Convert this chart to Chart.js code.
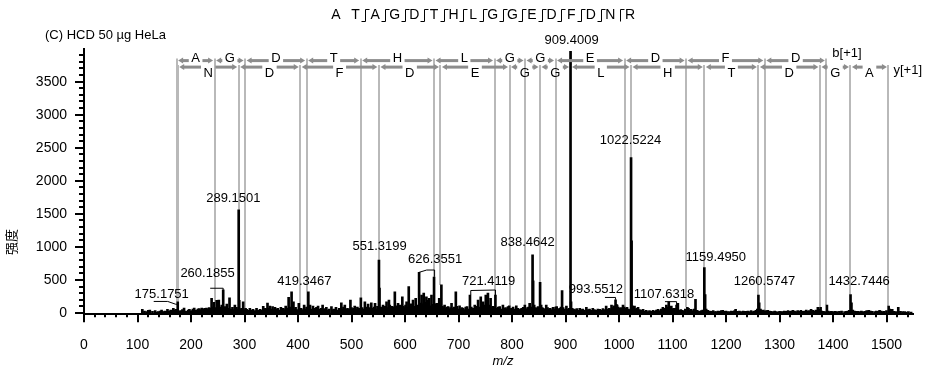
<!DOCTYPE html>
<html>
<head>
<meta charset="utf-8">
<script src="https://cdn.jsdelivr.net/npm/chart.js@4.4.0/dist/chart.umd.min.js"></script>
<style>
    html, body { margin: 0; padding: 0; background: #fff; }
    #wrap { width: 930px; height: 371px; }
</style>
</head>
<body>
<div id="wrap"><canvas id="spectrum" width="930" height="371"></canvas></div>
<script>
// peptide and fragment ions
const sequence = ['A', 'T', 'A', 'G', 'D', 'T', 'H', 'L', 'G', 'G', 'E', 'D', 'F', 'D', 'N', 'R'];
const bIons = [173.09, 244.13, 301.15, 416.18, 517.23, 654.29, 767.37, 824.39, 881.41, 1010.46, 1125.48, 1272.55, 1387.58];
const yIons = [175.12, 289.16, 404.19, 551.26, 666.29, 795.33, 852.35, 909.37, 1022.46, 1159.52, 1260.56, 1375.59, 1432.61, 1503.65];
const bLetters = ['A', 'G', 'D', 'T', 'H', 'L', 'G', 'G', 'E', 'D', 'F', 'D'];
const yLetters = ['N', 'D', 'F', 'D', 'E', 'G', 'G', 'L', 'H', 'T', 'D', 'G', 'A'];
// gaps in the sequence header (gap g sits after residue g, 0-based)
const bSites = [1, 2, 3, 4, 5, 6, 7, 8, 9, 10, 11, 12, 13];
const ySites = [1, 2, 3, 4, 5, 6, 7, 8, 9, 10, 11, 12, 13, 14];

// axis ticks
const xTicks = [0, 100, 200, 300, 400, 500, 600, 700, 800, 900, 1000, 1100, 1200, 1300, 1400, 1500];
const yTicks = [0, 500, 1000, 1500, 2000, 2500, 3000, 3500];

// labelled peaks (m/z)
const labelledPeaks = [175.1751, 260.1855, 289.1501, 419.3467, 551.3199, 626.3551, 721.4119, 838.4642,
    909.4009, 993.5512, 1022.5224, 1107.6318, 1159.4950, 1260.5747, 1432.7446];

// spectrum: [m/z, intensity]
const spectrum = [
    [109, 55], [113, 30], [117, 20], [120, 40], [123, 45], [128, 25], [133, 35], [136, 15], [139, 20], [142, 30],
    [145, 45], [148, 20], [151, 30], [154, 25], [156, 55], [159, 30], [162, 45], [165, 35], [167, 70], [170, 40],
    [171.5, 55], [175.1751, 170], [178, 30], [180.6, 35], [184, 50], [187, 75], [190, 30], [192, 20], [195, 45],
    [197, 55], [199, 25], [201, 35], [203.5, 60], [206, 75], [208, 40], [210.5, 45], [213, 60], [215, 65],
    [217.5, 50], [220, 75], [222, 55], [224, 65], [226.5, 70], [229, 75], [231.5, 60], [234, 80], [236, 70],
    [238.5, 220], [241, 90], [243, 160], [245.5, 80], [248, 190], [250, 110], [252, 195], [255, 90], [257.5, 120],
    [260.1855, 350], [263, 95], [265, 60], [267, 135], [269.5, 70], [272, 230], [275, 60], [277.5, 85], [280, 50],
    [282, 120], [285, 85], [287, 60], [289.1501, 1560], [290.2, 190], [292.5, 60], [294.5, 70], [297.5, 170],
    [300, 50], [302, 70], [304, 55], [307, 40], [310, 70], [313, 45], [316, 55], [319, 35], [322.5, 70], [325, 40],
    [329, 55], [332, 45], [335, 100], [337, 50], [339, 70], [341, 60], [343, 150], [345.5, 70], [347.5, 105],
    [350, 60], [352.5, 95], [354.5, 50], [357, 85], [359.5, 60], [362, 70], [365, 45], [368, 85], [370, 55],
    [372.5, 70], [374.5, 50], [377, 105], [379.5, 75], [382.5, 235], [385, 90], [388, 320], [390, 120],
    [391.5, 170], [393.5, 60], [395.5, 85], [398, 50], [401.5, 145], [404, 60], [406, 70], [408, 50], [411.5, 120],
    [414, 60], [416, 90], [419.3467, 320], [421, 80], [422.5, 120], [424.5, 60], [428, 105], [430.5, 50], [432, 70],
    [434.5, 85], [437.5, 105], [440, 55], [443, 70], [446, 120], [448.5, 50], [450.5, 65], [453, 85], [455.5, 45],
    [458, 60], [462.5, 95], [465, 50], [468, 60], [471, 85], [474, 45], [477, 70], [481, 155], [483, 60], [485, 90],
    [487.5, 120], [490, 55], [492.5, 70], [495, 60], [498, 195], [500, 80], [502, 60], [504, 70], [506, 105],
    [508.5, 55], [511, 90], [513.5, 70], [517.5, 230], [520, 80], [522, 60], [525, 170], [527, 70], [529, 90],
    [531, 135], [533.5, 60], [535, 80], [537, 155], [539.5, 70], [542, 90], [544, 145], [546.5, 60], [548.5, 100],
    [551.3199, 800], [552.3, 375], [554.5, 90], [556.5, 70], [559, 120], [561, 60], [563, 100], [565.5, 170],
    [568, 80], [570, 195], [571.6, 120], [574, 70], [576, 100], [578, 90], [581, 320], [583, 110], [585, 80],
    [587, 145], [589, 60], [591, 120], [593, 90], [595, 245], [597, 100], [599, 80], [601, 120], [603, 170],
    [605, 90], [607, 400], [609, 110], [611, 140], [613, 90], [615, 195], [617, 100], [620, 220], [622, 120],
    [624, 90], [626.3551, 615], [628, 150], [629.5, 110], [631, 270], [633, 140], [635, 300], [637, 120],
    [638.5, 160], [640, 245], [642, 130], [643.5, 190], [645, 220], [647, 110], [649.5, 270], [651.5, 130],
    [654.3, 545], [656, 140], [658, 110], [659.5, 145], [661.5, 90], [664, 220], [666, 120], [668, 425], [670, 100],
    [672, 80], [674, 120], [676.5, 70], [678.5, 90], [680.7, 95], [683, 60], [685, 80], [687, 145], [689.5, 70],
    [692, 90], [695, 320], [697, 100], [699.5, 60], [702, 110], [704, 60], [706.5, 80], [708.6, 70], [711, 50],
    [713.5, 90], [716, 95], [718.5, 60], [721.4119, 272], [724, 90], [726.5, 70], [728.5, 60], [730.4, 120],
    [733, 80], [735, 100], [736.6, 195], [739, 90], [741.6, 245], [744, 100], [746, 170], [748.5, 120], [751, 270],
    [753, 110], [755, 300], [757.5, 120], [760, 220], [762.5, 80], [764.5, 100], [766.5, 90], [769, 270], [772, 70],
    [774, 90], [777, 95], [780, 60], [783, 120], [785.5, 70], [788, 80], [790.5, 60], [792.6, 95], [795, 110],
    [797, 60], [799, 70], [802, 90], [805, 60], [808, 110], [811, 70], [813.5, 50], [816, 60], [818, 70], [821, 85],
    [824, 120], [826.5, 60], [829, 80], [831, 90], [833, 145], [835.5, 90], [838.4642, 880], [839.5, 485],
    [841.5, 120], [844, 80], [846, 70], [848.7, 95], [850.5, 80], [852.5, 465], [854.5, 120], [856.5, 80],
    [858.5, 70], [861, 60], [864, 120], [866.5, 80], [869, 60], [871.5, 70], [874, 50], [876.7, 85], [879.5, 60],
    [881.5, 90], [883.5, 95], [886, 60], [889, 70], [891.5, 90], [893.6, 340], [895.5, 80], [898, 60],
    [901.7, 105], [904.5, 60], [907, 70], [909.4009, 3960], [910.4, 170], [912.5, 70], [915, 60], [918, 50],
    [921, 65], [924, 40], [926.6, 70], [929.5, 50], [932, 60], [935, 45], [939, 85], [942, 50], [945, 60],
    [948, 40], [951, 70], [954, 50], [957, 40], [960.5, 60], [964, 55], [967, 45], [970, 65], [973, 50], [976, 105],
    [979, 60], [982, 70], [984, 50], [986, 120], [988.5, 80], [990.5, 110], [993.5512, 200], [995, 130],
    [996.5, 120], [998.5, 90], [1001, 70], [1003.5, 80], [1005.5, 60], [1007.5, 120], [1010, 90], [1012.5, 70],
    [1015, 85], [1017.5, 60], [1020, 50], [1022.5224, 2350], [1023.5, 1090], [1024.8, 110], [1026.5, 100],
    [1029, 105], [1031.5, 60], [1033.5, 70], [1035.6, 85], [1038, 50], [1041, 45], [1045, 55], [1048, 30],
    [1051, 40], [1054, 20], [1057, 35], [1060, 25], [1063.6, 40], [1067, 30], [1070, 45], [1073, 55], [1076, 35],
    [1079, 60], [1082, 85], [1085, 70], [1088.5, 120], [1090.5, 90], [1093, 170], [1095, 80], [1097.8, 105],
    [1100, 60], [1102, 70], [1104, 70], [1107.6318, 120], [1110, 145], [1113, 40], [1115.5, 50], [1118.5, 40],
    [1121, 30], [1124, 60], [1127.8, 85], [1130, 70], [1132.5, 40], [1135, 55], [1138, 35], [1140.5, 60],
    [1143, 205], [1146, 40], [1148.5, 30], [1151, 25], [1154, 35], [1156.5, 45], [1159.4950, 685], [1161, 280],
    [1163, 60], [1166, 40], [1169, 30], [1172.6, 25], [1176, 35], [1179, 20], [1182, 20], [1185, 30], [1188, 25],
    [1191, 35], [1194, 40], [1197, 25], [1200, 30], [1203, 20], [1207, 20], [1210, 30], [1213, 25], [1216, 35],
    [1218, 55], [1221, 25], [1225, 30], [1228.6, 20], [1232, 30], [1235, 25], [1238, 25], [1241, 30], [1244, 20],
    [1247, 35], [1250, 20], [1253, 30], [1256, 40], [1258.5, 60], [1260.5747, 270], [1262, 155], [1264.5, 60],
    [1267, 40], [1270, 45], [1272.5, 25], [1275, 35], [1278, 40], [1281, 30], [1284, 25], [1288, 20], [1291, 30],
    [1294, 20], [1297, 15], [1300, 25], [1303, 20], [1306, 20], [1309, 30], [1312, 25], [1316, 35], [1319, 25],
    [1322, 30], [1325, 40], [1328, 30], [1331, 20], [1334, 35], [1337, 25], [1340, 40], [1344, 25], [1347, 30],
    [1350, 45], [1353, 30], [1356, 35], [1359, 55], [1362, 40], [1365, 30], [1368, 45], [1371.7, 85], [1374, 60],
    [1376.8, 85], [1379, 30], [1382, 25], [1385, 20], [1388.6, 120], [1391, 30], [1394, 20], [1397, 25],
    [1400, 20], [1404, 25], [1408, 20], [1412, 25], [1416, 30], [1421.6, 20], [1425, 25], [1428, 30], [1430.5, 40],
    [1432.7446, 280], [1434.5, 155], [1437, 45], [1440, 30], [1443, 25], [1446.5, 25], [1450, 20], [1453, 30],
    [1456, 20], [1460, 25], [1463, 35], [1467, 40], [1470, 30], [1473, 25], [1477.7, 20], [1481, 30], [1484, 25],
    [1487, 40], [1490, 30], [1493, 20], [1496, 25], [1500, 35], [1504, 105], [1506, 60], [1510.7, 55], [1514, 25],
    [1518, 20], [1522, 85], [1526, 25], [1530, 20], [1533.7, 20], [1537, 15], [1541, 20], [1546, 15]
];

const FONT = '"Liberation Sans", Arial, sans-serif';
const GRAY_LINE = '#b9b9b9';
const GRAY_ARROW = '#8c8c8c';

// where each peak label sits relative to the top of its peak, and its leader line
const labelLayout = {
    '175.1751': { dx: -16, dy: -7, leader: [[-24, -0.3], [-10, -0.3], [-2, 2.5], [0, 2.5]] },
    '260.1855': { dx: -15.7, dy: -16.6, leader: [[-13, -1.6], [0, -1.6], [0, 0]] },
    '289.1501': { dx: -5.4, dy: -11.6 },
    '419.3467': { dx: -4, dy: -10 },
    '551.3199': { dx: 0.6, dy: -14 },
    '626.3551': { dx: 16, dy: -13, leader: [[0, 0], [7.6, -2.3], [15.5, -2.3], [15.5, 4.5]] },
    '721.4119': { dx: 18.6, dy: -13.3, leader: [[0.8, 0], [0.8, -4.5], [25.5, -5], [25.5, 0]] },
    '838.4642': { dx: -5, dy: -12 },
    '909.4009': { dx: 1, dy: -10.5 },
    '993.5512': { dx: -19.6, dy: -10.8, leader: [[-10.6, -2.3], [0, -2.3], [0, 0]] },
    '1022.5224': { dx: -0.5, dy: -17.7 },
    '1107.6318': { dx: -12.6, dy: -11, leader: [[-11.6, -3.4], [0, -3.4], [0, 0]] },
    '1159.4950': { dx: 11.5, dy: -10 },
    '1260.5747': { dx: 6, dy: -13.5 },
    '1432.7446': { dx: 8.6, dy: -13.5 }
};

function peakHeight(mz, tol) {
    let best = 0;
    spectrum.forEach(([m, v]) => {
        if (Math.abs(m - mz) <= tol && v > best) best = v;
    });
    return best;
}

function drawArrowRow(ctx, xScale, ions, letters, rowY, letterY) {
    ctx.font = '13px ' + FONT;
    ctx.textAlign = 'center';
    ctx.textBaseline = 'middle';
    for (let i = 0; i < letters.length; i++) {
        const x1 = xScale.getPixelForValue(ions[i]) + 1.5;
        const x2 = xScale.getPixelForValue(ions[i + 1]) - 1.5;
        const mid = (x1 + x2) / 2;
        const half = ctx.measureText(letters[i]).width / 2 + 2.5;
        ctx.fillStyle = GRAY_ARROW;
        // bars either side of the letter
        if (mid - half > x1 + 4) ctx.fillRect(x1 + 4, rowY - 1.5, mid - half - x1 - 4, 3);
        if (x2 - 4 > mid + half) ctx.fillRect(mid + half, rowY - 1.5, x2 - 4 - mid - half, 3);
        // outward heads
        ctx.beginPath();
        ctx.moveTo(x1, rowY); ctx.lineTo(x1 + 5, rowY - 3); ctx.lineTo(x1 + 5, rowY + 3);
        ctx.closePath(); ctx.fill();
        ctx.beginPath();
        ctx.moveTo(x2, rowY); ctx.lineTo(x2 - 5, rowY - 3); ctx.lineTo(x2 - 5, rowY + 3);
        ctx.closePath(); ctx.fill();
        ctx.fillStyle = '#000';
        ctx.fillText(letters[i], mid, letterY);
    }
}

const decor = {
    id: 'decor',
    beforeDatasetsDraw(chart) {
        const { ctx, chartArea, scales: { x, y } } = chart;
        const bRow = chartArea.top + 12;
        const yRow = chartArea.top + 18.5;
        ctx.save();
        ctx.strokeStyle = GRAY_LINE;
        ctx.lineWidth = 2;
        const ionLine = (mz, top) => {
            const px = Math.round(x.getPixelForValue(mz));
            const bottom = y.getPixelForValue(peakHeight(mz, 2.5));
            ctx.beginPath();
            ctx.moveTo(px, top);
            ctx.lineTo(px, bottom);
            ctx.stroke();
        };
        bIons.forEach(m => ionLine(m, bRow - 2));
        yIons.forEach(m => ionLine(m, yRow - 2));
        ctx.restore();
    },
    afterDraw(chart) {
        const { ctx, chartArea, scales: { x, y } } = chart;
        const left = chartArea.left, bottom = chartArea.bottom;
        ctx.save();

        // axis tick marks (major + minor)
        ctx.strokeStyle = '#000';
        ctx.lineWidth = 2;
        for (let v = 0; v <= 3900; v += 100) {
            const py = Math.round(y.getPixelForValue(v));
            const len = v % 500 === 0 ? 9 : 5;
            ctx.beginPath(); ctx.moveTo(left - len, py); ctx.lineTo(left, py); ctx.stroke();
        }
        for (let v = 0; v <= 1540; v += 20) {
            const px = Math.round(x.getPixelForValue(v));
            const len = v % 100 === 0 ? 8 : 3;
            ctx.beginPath(); ctx.moveTo(px, bottom); ctx.lineTo(px, bottom + len); ctx.stroke();
        }

        // fragment arrows
        const bRow = chartArea.top + 12;
        const yRow = chartArea.top + 18.5;
        drawArrowRow(ctx, x, bIons, bLetters, bRow, bRow - 2);
        drawArrowRow(ctx, x, yIons, yLetters, yRow, yRow + 6);
        ctx.fillStyle = '#000';
        ctx.textAlign = 'left';
        ctx.fillText('b[+1]', x.getPixelForValue(bIons[bIons.length - 1]) + 6, bRow - 7);
        ctx.fillText('y[+1]', x.getPixelForValue(yIons[yIons.length - 1]) + 5, yRow + 3);

        // peak labels
        ctx.font = '13px ' + FONT;
        ctx.textAlign = 'center';
        ctx.textBaseline = 'middle';
        ctx.lineWidth = 1;
        labelledPeaks.forEach(mz => {
            const key = mz.toFixed(4);
            const lay = labelLayout[key];
            const px = x.getPixelForValue(mz);
            const py = y.getPixelForValue(peakHeight(mz, 0.01));
            ctx.fillText(key, px + lay.dx, py + lay.dy);
            if (lay.leader) {
                ctx.beginPath();
                lay.leader.forEach(([dx, dy], i) => {
                    if (i === 0) ctx.moveTo(px + dx, py + dy);
                    else ctx.lineTo(px + dx, py + dy);
                });
                ctx.stroke();
            }
        });

        // panel caption
        ctx.textAlign = 'left';
        ctx.fillText('(C) HCD 50 \u00b5g HeLa', 45, 35);

        // sequence header with cleavage marks
        ctx.font = '14px ' + FONT;
        ctx.textAlign = 'center';
        const x0 = 336, pitch = 19.6, ty = 15.5;
        sequence.forEach((r, k) => ctx.fillText(r, x0 + k * pitch, ty));
        for (let g = 0; g < sequence.length - 1; g++) {
            const hasB = bSites.includes(g), hasY = ySites.includes(g);
            if (!hasB && !hasY) continue;
            const mx = Math.round(x0 + (g + 0.5) * pitch) + 0.5;
            ctx.beginPath();
            if (hasY) { ctx.moveTo(mx + 4, 9.5); ctx.lineTo(mx, 9.5); } else ctx.moveTo(mx, 9.5);
            ctx.lineTo(mx, 21.5);
            if (hasB) ctx.lineTo(mx - 4, 21.5);
            ctx.stroke();
        }

        // axis titles
        ctx.font = 'italic 13px ' + FONT;
        ctx.fillText('m/z', 503, 361);
        ctx.translate(11, 242);
        ctx.rotate(-Math.PI / 2);
        ctx.font = '13px "Noto Sans CJK SC", sans-serif';
        ctx.fillText('强度', 0, 0);
        ctx.restore();
    }
};

const ctx = document.getElementById('spectrum').getContext('2d');
new Chart(ctx, {
    type: 'bar',
    data: {
        datasets: [{
            data: spectrum.map(p => ({ x: p[0], y: p[1] })),
            backgroundColor: '#000',
            borderWidth: 0,
            barThickness: 2
        }]
    },
    options: {
        responsive: false,
        animation: false,
        devicePixelRatio: 1,
        layout: { padding: { left: 0, top: 48.6, right: 16.75, bottom: 0 } },
        plugins: {
            legend: { display: false },
            tooltip: { enabled: false }
        },
        scales: {
            x: {
                type: 'linear',
                min: 0,
                max: 1550,
                offset: false,
                grid: { display: false, offset: false },
                border: { color: '#000', width: 2 },
                ticks: { color: '#000', font: { family: FONT, size: 14 }, padding: 14, maxRotation: 0,
                    callback: v => String(v) },
                afterBuildTicks: s => { s.ticks = xTicks.map(v => ({ value: v })); },
                afterFit: s => { s.height = 56.7; }
            },
            y: {
                min: -20,
                max: 4000,
                grid: { display: false },
                border: { color: '#000', width: 2 },
                ticks: { color: '#000', font: { family: FONT, size: 14 }, padding: 9,
                    callback: v => String(v) },
                afterBuildTicks: s => { s.ticks = yTicks.map(v => ({ value: v })); },
                afterFit: s => { s.height = s.height; s.width = 84; }
            }
        }
    },
    plugins: [decor]
});
</script>
</body>
</html>
